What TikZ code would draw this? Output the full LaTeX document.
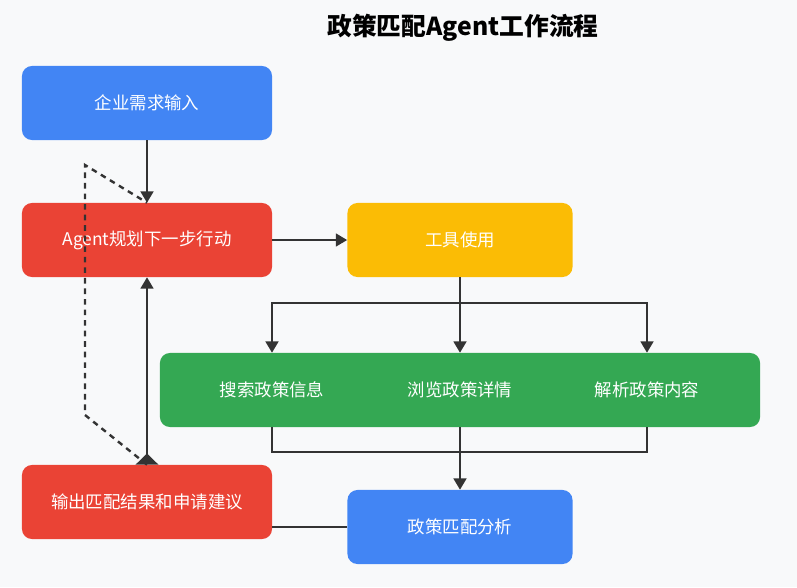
\documentclass[tikz,border=0pt]{standalone}
\usepackage{fontspec}
\setmainfont{Noto Sans CJK SC}
\usetikzlibrary{arrows.meta}
\definecolor{gblue}{HTML}{4285F4}
\definecolor{gred}{HTML}{EA4335}
\definecolor{gyellow}{HTML}{FBBC05}
\definecolor{ggreen}{HTML}{34A853}
\definecolor{ink}{HTML}{333333}
\definecolor{bgc}{HTML}{F8F9FA}

\begin{document}
\begin{tikzpicture}[x=0.025cm, y=-0.025cm, every node/.style={font=\fontsize{12.4}{14}\selectfont},
  box/.style={rounded corners=0.25cm, minimum width=6.25cm, minimum height=1.85cm, text=white},
  line/.style={line width=1.7pt, draw=ink},
  tip/.style={-{Triangle[length=8pt,width=9pt]}}]
\fill[bgc] (0,0) rectangle (797,587);
\useasboundingbox (0,0) rectangle (797,587);
\node[font=\fontsize{17.6}{19}\selectfont\bfseries] (title) at (463,28) {政策匹配Agent工作流程};
\node[box,fill=gblue] (inp) at (147,103) {企业需求输入};
\node[box,fill=gred] (plan) at (147,240) {Agent规划下一步行动};
\node[box,fill=gyellow,minimum width=5.625cm] (tool) at (460,240) {工具使用};
\node[box,fill=ggreen,minimum width=15cm] (grp) at (460,390) {};
\node[text=white] (srch) at (272,390) {搜索政策信息};
\node[text=white] (brws) at (460,390) {浏览政策详情};
\node[text=white] (pars) at (647,390) {解析政策内容};
\node[box,fill=gred] (out) at (147,502) {输出匹配结果和申请建议};
\node[box,fill=gblue,minimum width=5.625cm] (ana) at (460,527) {政策匹配分析};
% main flow
\draw[line,tip] (inp) -- (plan);
\draw[line,tip] (plan) -- (tool);
\coordinate (split) at (460,303);
\draw[line] (tool) -- (split);
\foreach \t in {srch,brws,pars} \draw[line,tip] (split) -| (\t |- grp.north);
\coordinate (merge) at (460,452);
\foreach \t in {srch,brws,pars} \draw[line] (\t |- grp.south) |- (merge);
\draw[line,tip] (merge) -- (ana);
\draw[line] (ana.west) -- (ana.west -| out.east);
% loop back
\draw[line,{Triangle[reversed,length=8pt,width=16pt]}-{Triangle[length=8pt,width=9pt]}] (out) -- (plan);
\coordinate (dlow) at (85,415);
\coordinate (dhigh) at (85,165);
\draw[line,dash pattern=on 4pt off 3.5pt] (out.north) -- (dlow) -- (dhigh) -- (plan.north);
\end{tikzpicture}
\end{document}
